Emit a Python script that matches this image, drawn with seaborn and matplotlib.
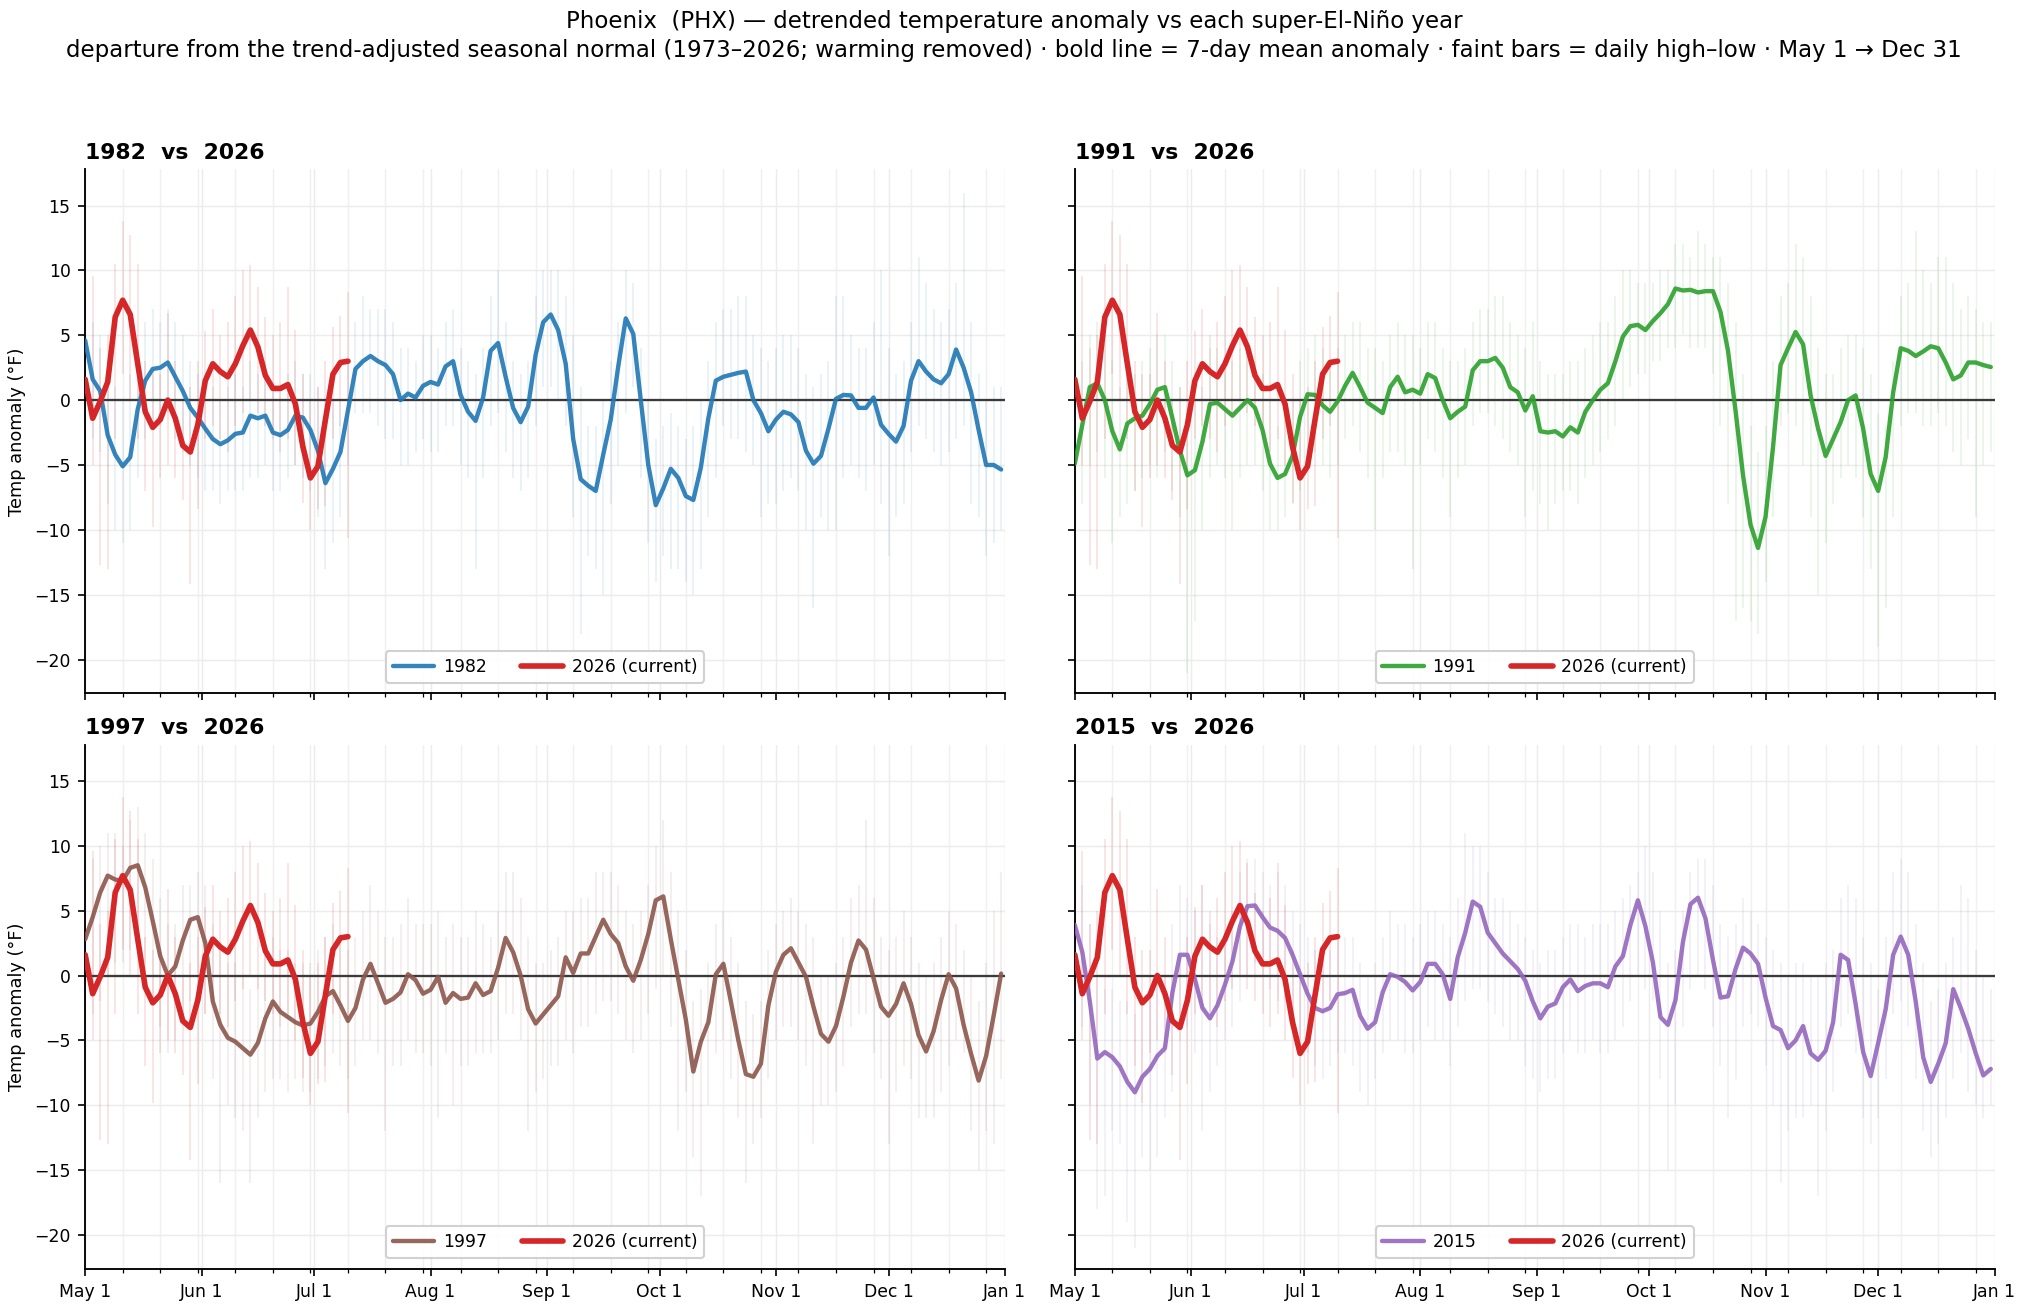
import numpy as np
import pandas as pd
import matplotlib
matplotlib.use("Agg")
import matplotlib.pyplot as plt
from matplotlib.ticker import FixedLocator, MultipleLocator
import seaborn as sns

# ---------------- data (7-day mean anomaly every 2 days from May 1, °F) ----------------
SEASON_START = "2026-05-01"
SEASON_END = "2027-01-01"
STEP = 2
month_labels = ["May 1", "Jun 1", "Jul 1", "Aug 1", "Sep 1", "Oct 1", "Nov 1", "Dec 1", "Jan 1"]
years = [1982, 1991, 1997, 2015]
year_colors = ["#1f77b4", "#2ca02c", "#8c564b", "#9467bd"]
current_color = "#d62728"

mean_1982 = [4.6, 1.6, 0.7, -2.7, -4.2, -5.1, -4.4, -0.7, 1.5, 2.4,
             2.5, 2.9, 1.8, 0.7, -0.6, -1.35, -2.2, -3.0, -3.4, -3.1,
             -2.6, -2.5, -1.2, -1.4, -1.2, -2.5, -2.7, -2.3, -1.2, -1.35,
             -2.3, -3.9, -6.4, -5.3, -4.0, -0.8, 2.4, 3.0, 3.4, 3.0,
             2.7, 2.0, 0.0, 0.5, 0.2, 1.1, 1.4, 1.2, 2.6, 3.0,
             0.4, -0.9, -1.6, 0.2, 3.8, 4.4, 1.8, -0.6, -1.7, -0.5,
             3.5, 6.0, 6.6, 5.4, 2.8, -3.0, -6.1, -6.6, -7.0, -4.2,
             -1.5, 2.6, 6.3, 5.1, 0.0, -5.0, -8.1, -6.8, -5.3, -6.0,
             -7.4, -7.7, -5.2, -1.4, 1.5, 1.8, 1.95, 2.1, 2.2, 0.0,
             -1.0, -2.4, -1.5, -0.9, -1.1, -1.7, -3.9, -4.9, -4.3, -2.2,
             0.1, 0.4, 0.36, -0.6, -0.6, 0.2, -1.9, -2.6, -3.2, -2.0,
             1.5, 3.0, 2.2, 1.6, 1.3, 2.0, 3.9, 2.5, 0.6, -2.3,
             -5.0, -5.0, -5.35]
hi_1982 = [9, 6, 5, 3, 1, 0, 2, 4, 6, 7,
           6, 7, 6, 5, 3, 2, 2, 1, 0, 1,
           2, 1, 3, 2, 3, 1, 1, 2, 3, 2,
           2, 1, -1, 0, 0, 3, 6, 8, 7, 7,
           7, 6, 4, 4, 3, 5, 5, 4, 6, 7,
           4, 3, 2, 4, 8, 10, 6, 3, 2, 3,
           8, 10, 10, 10, 8, 5, 1, -2, -2, 0,
           3, 6, 10, 9, 4, 0, -3, -2, -1, -2,
           -3, -2, 0, 3, 6, 7, 7, 8, 8, 5,
           4, 3, 4, 5, 5, 4, 2, 1, 2, 3,
           8, 8, 5, 4, 4, 6, 10, 4, 2, 3,
           6, 11, 9, 7, 6, 7, 9, 16, 6, 2,
           0, 1, 1]
lo_1982 = [0, -3, -4, -8, -10, -11, -10, -6, -3, -2,
           -2, -1, -3, -4, -5, -6, -7, -7, -8, -7,
           -7, -7, -6, -6, -5, -7, -7, -6, -5, -6,
           -7, -9, -13, -11, -9, -5, -1, -1, -1, -2,
           -3, -3, -5, -5, -4, -3, -4, -4, -2, -2,
           -5, -6, -13, -6, -2, -1, -4, -6, -7, -6,
           -2, 1, 1, 0, -2, -9, -18, -12, -13, -15,
           -8, -5, -1, 1, -6, -11, -14, -12, -13, -13,
           -14, -15, -13, -9, -6, -2, -3, -3, -4, -5,
           -9, -8, -8, -7, -6, -7, -10, -16, -9, -10,
           -10, -6, -5, -6, -7, -5, -8, -12, -9, -8,
           -4, -2, -3, -4, -5, -4, -3, -2, -8, -9,
           -12, -11, -10]

mean_1991 = [-4.9, -1.9, 1.0, 1.3, 0.0, -2.4, -3.8, -1.8, -1.4, -1.2,
             -0.3, 0.8, 1.0, -1.4, -3.9, -5.8, -5.4, -3.2, -0.3, -0.2,
             -0.7, -1.2, -0.6, 0.0, -0.6, -2.3, -4.9, -6.0, -5.7, -4.3,
             -1.3, 0.45, 0.4, -0.4, -0.9, -0.1, 1.1, 2.1, 1.0, -0.2,
             -0.6, -1.0, 1.0, 1.8, 0.6, 0.8, 0.5, 2.0, 1.7, 0.0,
             -1.4, -0.9, -0.5, 2.3, 3.0, 3.0, 3.25, 2.5, 1.0, 0.6,
             -0.8, 0.3, -2.4, -2.5, -2.4, -2.8, -2.1, -2.5, -0.9, 0.0,
             0.8, 1.3, 3.0, 4.9, 5.7, 5.8, 5.4, 6.1, 6.7, 7.4,
             8.6, 8.45, 8.5, 8.3, 8.4, 8.4, 6.8, 3.8, -0.8, -5.8,
             -9.6, -11.4, -9.0, -3.6, 2.7, 4.0, 5.25, 4.3, 0.36, -2.2,
             -4.3, -3.0, -1.7, 0.0, 0.36, -2.2, -5.7, -7.0, -4.4, 0.6,
             4.0, 3.8, 3.4, 3.75, 4.15, 4.0, 2.9, 1.6, 1.9, 2.9,
             2.9, 2.7, 2.55]
hi_1991 = [2, 3, 5, 6, 5, 3, 1, 2, 2, 3,
           4, 5, 5, 3, 1, -1, 0, 1, 4, 4,
           3, 3, 4, 4, 3, 2, 0, -2, -1, 0,
           3, 4, 5, 4, 3, 4, 5, 6, 6, 4,
           4, 3, 5, 6, 5, 5, 4, 6, 6, 4,
           3, 3, 4, 6, 7, 7, 8, 8, 6, 5,
           4, 6, 3, 2, 2, 2, 3, 3, 4, 5,
           6, 6, 8, 10, 10, 9, 9, 9, 10, 10,
           12, 12, 11, 13, 12, 11, 11, 9, 6, 2,
           -2, -4, -2, 3, 8, 9, 12, 11, 8, 4,
           2, 2, 4, 5, 5, 4, 2, -1, -2, 3,
           8, 9, 13, 10, 9, 11, 11, 9, 7, 8,
           7, 6, 6]
lo_1991 = [-9, -8, -5, -4, -6, -11, -9, -8, -7, -6,
           -5, -6, -4, -7, -9, -21, -17, -10, -6, -5,
           -6, -10, -6, -5, -5, -7, -10, -10, -9, -8,
           -7, -5, -4, -5, -6, -5, -3, -2, -4, -6,
           -10, -6, -4, -4, -5, -13, -5, -3, -4, -6,
           -9, -6, -5, -2, -1, -1, -2, -3, -4, -5,
           -9, -7, -8, -10, -8, -7, -7, -8, -6, -5,
           -4, -3, -2, 0, 1, 2, 2, 3, 3, 4,
           4, 5, 4, 4, 4, 2, -2, -8, -17, -16,
           -17, -18, -14, -9, -2, -1, -2, -5, -9, -15,
           -11, -8, -6, -5, -6, -9, -13, -19, -16, -9,
           -2, -1, -1, -2, -2, -1, -2, -4, -5, -3,
           -9, -5, -4]

mean_1997 = [2.8, 4.5, 6.4, 7.7, 7.4, 7.3, 8.3, 8.5, 6.8, 4.2,
             1.5, 0.0, 0.7, 2.7, 4.3, 4.5, 2.5, -2.0, -3.8, -4.8,
             -5.1, -5.6, -6.1, -5.2, -3.3, -2.0, -2.8, -3.2, -3.6, -3.85,
             -3.7, -2.8, -1.6, -1.2, -2.3, -3.5, -2.5, -0.3, 0.9, -0.6,
             -2.1, -1.8, -1.3, 0.1, -0.35, -1.4, -1.1, -0.1, -2.1, -1.35,
             -1.8, -1.7, -0.6, -1.5, -1.2, 0.6, 2.9, 1.8, 0.0, -2.6,
             -3.7, -3.0, -2.3, -1.6, 1.4, 0.2, 1.7, 1.7, 3.0, 4.3,
             3.2, 2.5, 0.7, -0.4, 1.2, 3.2, 5.8, 6.1, 2.8, -0.3,
             -3.4, -7.4, -5.1, -3.6, 0.1, 0.9, -2.0, -5.0, -7.6, -7.8,
             -6.8, -2.3, 0.3, 1.6, 2.1, 1.0, -0.1, -2.4, -4.5, -5.1,
             -3.9, -1.6, 1.0, 2.7, 2.0, -0.2, -2.4, -3.1, -2.2, -0.6,
             -2.2, -4.6, -5.85, -4.3, -1.9, 0.1, -1.0, -3.8, -6.05, -8.1,
             -6.2, -3.1, 0.15]
hi_1997 = [7, 9, 10, 11, 11, 10, 12, 13, 11, 9,
           6, 4, 4, 7, 7, 8, 7, 4, 2, 1,
           1, 0, -1, 0, 2, 3, 2, 2, 1, 1,
           1, 2, 3, 4, 3, 2, 3, 5, 7, 5,
           3, 3, 4, 6, 4, 4, 4, 5, 3, 4,
           3, 3, 5, 4, 3, 5, 8, 8, 6, 3,
           1, 1, 2, 3, 5, 5, 6, 6, 8, 8,
           8, 7, 5, 4, 5, 7, 10, 12, 8, 5,
           2, -2, -1, 1, 4, 5, 3, 1, -2, -3,
           -2, 2, 4, 5, 6, 5, 4, 3, 0, 0,
           1, 3, 6, 7, 12, 6, 3, 2, 3, 5,
           3, 1, 0, 1, 3, 5, 4, 2, 0, -2,
           1, 5, 8]
lo_1997 = [-4, -3, -2, 0, 1, 1, 2, 2, 1, -2,
           -4, -6, -5, -3, -2, -2, -3, -8, -16, -10,
           -11, -12, -16, -11, -9, -8, -8, -9, -8, -9,
           -9, -8, -7, -6, -7, -8, -7, -5, -5, -6,
           -12, -7, -7, -5, -6, -6, -7, -11, -6, -10,
           -7, -7, -6, -6, -6, -5, -3, -3, -5, -12,
           -9, -8, -7, -7, -5, -6, -4, -4, -3, -2,
           -2, -3, -5, -6, -5, -3, -1, 0, -4, -12,
           -9, -14, -17, -10, -6, -5, -8, -11, -16, -13,
           -11, -8, -5, -4, -4, -5, -7, -13, -10, -10,
           -9, -7, -4, -3, -3, -6, -8, -13, -9, -7,
           -8, -11, -11, -11, -9, -7, -5, -6, -12, -15,
           -12, -13, -8]

mean_2015 = [3.9, 1.8, -2.0, -6.4, -5.9, -6.3, -7.0, -8.2, -9.0, -7.8,
             -7.2, -6.2, -5.6, -1.3, 1.6, 1.6, -0.3, -2.5, -3.3, -2.3,
             -0.7, 1.1, 3.8, 5.35, 5.4, 4.5, 3.7, 3.45, 2.9, 1.6,
             0.1, -1.4, -2.5, -2.75, -2.5, -1.45, -1.35, -1.1, -3.1, -4.1,
             -3.6, -1.3, 0.1, -0.1, -0.5, -1.15, -0.5, 0.9, 0.9, 0.1,
             -1.8, 1.4, 3.3, 5.7, 5.3, 3.3, 2.5, 1.7, 1.1, 0.5,
             -0.4, -2.0, -3.3, -2.4, -2.15, -0.9, -0.3, -1.2, -0.8, -0.6,
             -0.6, -0.9, 0.7, 1.5, 3.9, 5.8, 3.8, 1.0, -3.2, -3.8,
             -1.9, 2.6, 5.5, 6.0, 4.4, 1.2, -1.7, -1.6, 0.5, 2.15,
             1.7, 0.9, -1.7, -3.9, -4.2, -5.6, -5.0, -3.9, -6.0, -6.5,
             -5.8, -3.6, 1.6, 1.2, -2.2, -5.9, -7.75, -5.2, -2.6, 1.6,
             3.0, 1.6, -2.0, -6.3, -8.2, -6.8, -5.2, -1.05, -2.5, -4.1,
             -6.0, -7.7, -7.2]
hi_2015 = [9, 7, 4, 0, -1, -1, -2, -2, -3, -2,
           -1, 0, 0, 4, 7, 6, 5, 7, 4, 3,
           3, 5, 8, 9, 9, 8, 7, 8, 7, 5,
           4, 3, 2, 2, 2, 3, 3, 3, 1, 0,
           1, 3, 5, 4, 4, 3, 4, 5, 5, 4,
           3, 6, 11, 10, 10, 8, 6, 6, 5, 4,
           3, 2, 1, 2, 2, 3, 4, 4, 3, 4,
           4, 4, 5, 6, 7, 8, 10, 8, 5, 1,
           2, 5, 8, 9, 9, 7, 4, 3, 4, 6,
           5, 4, 3, 2, 1, 0, 1, 1, 0, 0,
           1, 2, 6, 7, 6, 3, 1, -1, 3, 8,
           9, 8, 4, 1, -2, -1, 1, 3, 7, 6,
           2, 0, -1]
lo_2015 = [-2, -4, -10, -18, -17, -12, -13, -19, -21, -14,
           -15, -14, -11, -9, -5, -4, -6, -12, -9, -7,
           -5, -4, -2, 0, 1, 0, -1, -2, -2, -4,
           -5, -6, -7, -8, -7, -6, -6, -7, -9, -10,
           -8, -6, -5, -5, -6, -6, -5, -4, -5, -5,
           -7, -4, -2, -1, -1, -2, -3, -4, -5, -5,
           -7, -8, -9, -8, -8, -6, -5, -6, -6, -5,
           -6, -6, -5, -4, -2, 0, -1, -2, -8, -15,
           -10, -4, -1, 0, -1, -4, -7, -11, -8, -4,
           -3, -4, -7, -10, -16, -12, -11, -11, -10, -17,
           -12, -9, -4, -3, -6, -11, -13, -11, -8, -3,
           -2, -4, -8, -12, -14, -13, -11, -8, -6, -9,
           -10, -11, -10]

# 2026 (current season, through mid-July)
mean_2026 = [1.6, -1.4, -0.1, 1.4, 6.4, 7.7, 6.6, 2.8, -0.9, -2.1,
             -1.5, 0.0, -1.4, -3.5, -4.0, -1.9, 1.5, 2.8, 2.2, 1.8,
             2.8, 4.2, 5.4, 4.1, 1.9, 0.9, 0.9, 1.2, -0.3, -3.6,
             -6.0, -5.1, -1.5, 2.0, 2.9, 3.0]
hi_2026 = [6, 9.6, 4, 5, 10.5, 13.8, 12.7, 10.5, 3, 2,
           2, 6.7, 3, 0, 1, 3, 5.3, 7, 5, 6,
           8, 10, 10.4, 8.7, 6.4, 5, 6, 8.7, 5.4, 2,
           0, 1, 3, 5.6, 6.5, 8.3]
lo_2026 = [-4, -5, -12.7, -13, -3, 2, 0, -3, -7, -9.8,
           -6, -5, -6, -7.7, -14.2, -8.4, -3, -2, -3, -4,
           -2, -1, 0, -1, -2, -3, -4, -3, -5, -7.9,
           -10, -8.4, -8.2, -3, -2, -10.6]

year_means = [mean_1982, mean_1991, mean_1997, mean_2015]
year_his = [hi_1982, hi_1991, hi_1997, hi_2015]
year_los = [lo_1982, lo_1991, lo_1997, lo_2015]

# ---------------- derived axes values ----------------
start = pd.Timestamp(SEASON_START)
month_starts = pd.date_range(SEASON_START, SEASON_END, freq="MS")
month_pos = (month_starts - start).days.to_numpy()
season_len = int(month_pos[-1])
days_year = np.arange(len(mean_1982)) * STEP
days_cur = np.arange(len(mean_2026)) * STEP

# ---------------- figure ----------------
sns.set_theme(style="ticks")
plt.rcParams["font.family"] = ["DejaVu Sans"]
plt.rcParams.update({"text.color": "black", "axes.labelcolor": "black",
                     "xtick.color": "black", "ytick.color": "black",
                     "axes.edgecolor": "black"})

fig, axes = plt.subplots(2, 2, figsize=(13.52, 8.747), dpi=150, sharex=True, sharey=True)
fig.subplots_adjust(left=0.042, right=0.9835, top=0.871, bottom=0.033,
                    wspace=0.076, hspace=0.098)

for i, ax in enumerate(axes.flat):
    year = years[i]
    col = year_colors[i]
    ax.vlines(days_year, year_los[i], year_his[i], color=col, alpha=0.10, lw=0.9, zorder=1)
    ax.vlines(days_cur, lo_2026, hi_2026, color=current_color, alpha=0.13, lw=0.9, zorder=1)
    ax.axhline(0, color="#3a3a3a", lw=1.1, zorder=2)
    sns.lineplot(x=days_year, y=year_means[i], ax=ax, color=col, lw=2.1, alpha=0.9,
                 label=str(year), estimator=None, zorder=3)
    sns.lineplot(x=days_cur, y=mean_2026, ax=ax, color=current_color, lw=2.7,
                 label="2026 (current)", estimator=None, zorder=4)

    ax.set_xlim(0, season_len)
    ax.set_ylim(-22.6, 17.8)
    ax.set_yticks([-20, -15, -10, -5, 0, 5, 10, 15])
    ax.xaxis.set_major_locator(FixedLocator(month_pos))
    ax.set_xticklabels(month_labels)
    ax.xaxis.set_minor_locator(MultipleLocator(10))
    ax.grid(True, which="major", color="#ececec", lw=0.7, zorder=0)
    ax.grid(True, which="minor", axis="x", color="#f0f0f0", lw=0.7, zorder=0)
    ax.set_axisbelow(True)
    ax.tick_params(axis="both", which="major", labelsize=8.3, length=3.5, width=0.8)
    ax.tick_params(axis="x", which="minor", length=2, width=0.6)
    ax.set_ylabel("Temp anomaly (°F)", fontsize=8.5)
    ax.yaxis.set_tick_params(labelleft=(i % 2 == 0))
    ax.set_xlabel("")
    ax.set_title(f"{year}  vs  2026", loc="left", fontweight="bold", fontsize=10.5, pad=5)
    for s in ["left", "bottom"]:
        ax.spines[s].set_linewidth(0.9)
    ax.legend(loc="lower center", ncol=2, fontsize=8.3, frameon=True, handlelength=2.4,
              handletextpad=0.5, columnspacing=2.0, borderaxespad=0.6, fancybox=True,
              framealpha=0.9)

sns.despine(fig=fig)

fig.suptitle("Phoenix  (PHX) — detrended temperature anomaly vs each super-El-Niño year\n"
             "departure from the trend-adjusted seasonal normal (1973–2026; warming removed) · "
             "bold line = 7-day mean anomaly · faint bars = daily high–low · May 1 → Dec 31",
             fontsize=11, y=0.992, va="top", linespacing=1.3)

fig.savefig("out.png", dpi=150)
